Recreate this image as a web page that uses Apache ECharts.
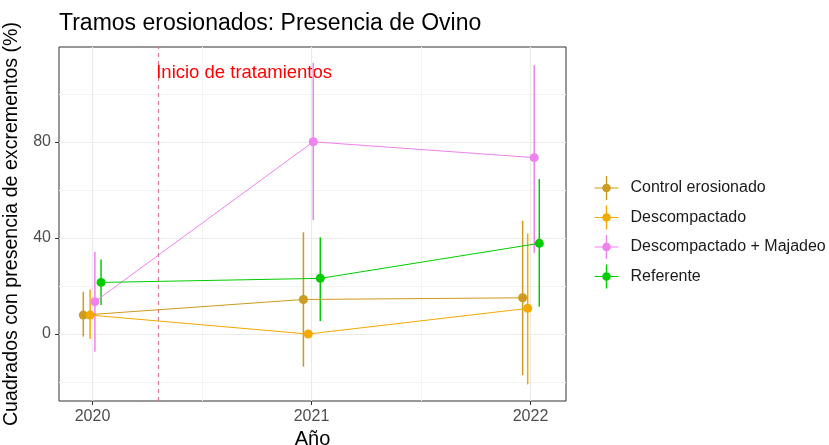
<!DOCTYPE html>
<html>
<head>
<meta charset="utf-8">
<title>Tramos erosionados: Presencia de Ovino</title>
<script src="https://cdn.jsdelivr.net/npm/echarts@6/dist/echarts.min.js"></script>
<style>
html, body { margin: 0; padding: 0; background: #fff; }
#chart { width: 829px; height: 445px; }
</style>
</head>
<body>
<div id="chart"></div>
<script>
// valores (% de cuadrados con excrementos)
var groups = ['Control erosionado', 'Descompactado', 'Descompactado + Majadeo', 'Referente'];
var years = [2020, 2021, 2022];
// posicion en x de cada punto (año con el pequeño desplazamiento de cada grupo)
var posX = [
    [2019.958, 2020.963, 2021.964],
    [2019.989, 2020.985, 2021.987],
    [2020.011, 2021.008, 2022.017],
    [2020.039, 2021.040, 2022.040]
];
var meanPct = [
    [7.9, 14.4, 15.1],
    [7.9, 0, 10.7],
    [13.5, 80.1, 73.5],
    [21.5, 23.2, 37.8]
];
var lowPct = [
    [-1.1, -13.6, -17.1],
    [-2.1, 0, -21],
    [-7.4, 47.5, 33.9],
    [12.1, 5.4, 11.4]
];
var highPct = [
    [17.6, 42.4, 47.2],
    [18.6, 0, 41.9],
    [34.3, 113, 112],
    [31.1, 40.3, 64.6]
];
var xTicks = [2020, 2021, 2022];
var xMinor = [2020.5, 2021.5];
var yTicks = [0, 40, 80];
var yMinor = [-20, 20, 60, 100];
var treatmentStart = 2020.3;
var treatmentLabel = 'Inicio de tratamientos';
var treatmentLabelY = 109;

var colors = ['#cd9b1d', '#f2a900', '#ee82ee', '#00cd00'];
var font = "'Liberation Sans', Arial, sans-serif";
var crossIcon = 'path://M11.3,0H12.7V24H11.3Z M0,11.5H24V12.5H0Z M7.7,12A4.3,4.3,0,1,1,16.3,12A4.3,4.3,0,1,1,7.7,12Z';

var chart = echarts.init(document.getElementById('chart'));

var gridLines = [];
xMinor.forEach(function (v) { gridLines.push({ xAxis: v, lineStyle: { color: '#f3f3f3', width: 1, type: 'solid' } }); });
yMinor.forEach(function (v) { gridLines.push({ yAxis: v, lineStyle: { color: '#f3f3f3', width: 1, type: 'solid' } }); });
xTicks.forEach(function (v) { gridLines.push({ xAxis: v, lineStyle: { color: '#ebebeb', width: 1.2, type: 'solid' } }); });
yTicks.forEach(function (v) { gridLines.push({ yAxis: v, lineStyle: { color: '#ebebeb', width: 1.2, type: 'solid' } }); });

var series = [];
// puntos (primero, para que la leyenda tome su color)
groups.forEach(function (name, i) {
    series.push({
        name: name,
        type: 'scatter',
        symbol: 'circle',
        symbolSize: 9,
        z: 6,
        itemStyle: { color: colors[i], opacity: 1 },
        data: posX[i].map(function (x, j) { return [x, meanPct[i][j]]; })
    });
});
// lineas entre años
groups.forEach(function (name, i) {
    series.push({
        name: name,
        type: 'line',
        showSymbol: false,
        z: 5,
        lineStyle: { color: colors[i], width: 1 },
        itemStyle: { color: colors[i] },
        data: posX[i].map(function (x, j) { return [x, meanPct[i][j]]; })
    });
});
// barras de error
groups.forEach(function (name, i) {
    series.push({
        name: name,
        type: 'custom',
        z: 5,
        itemStyle: { color: colors[i] },
        encode: { x: 0, y: [1, 2] },
        data: posX[i].map(function (x, j) { return [x, lowPct[i][j], highPct[i][j]]; }),
        renderItem: function (params, api) {
            var a = api.coord([api.value(0), api.value(1)]);
            var b = api.coord([api.value(0), api.value(2)]);
            return {
                type: 'line',
                shape: { x1: a[0], y1: a[1], x2: b[0], y2: b[1] },
                style: { stroke: colors[i], lineWidth: 1.5 }
            };
        }
    });
});
// rejilla y linea de inicio de tratamientos
series.push({
    name: 'rejilla',
    type: 'line',
    data: [],
    z: 1,
    silent: true,
    markLine: {
        z: 1,
        silent: true,
        symbol: 'none',
        animation: false,
        label: { show: false },
        data: gridLines
    }
});
series.push({
    name: 'tratamiento',
    type: 'line',
    data: [],
    z: 2,
    silent: true,
    color: '#e07b93',
    markLine: {
        z: 2,
        silent: true,
        symbol: 'none',
        animation: false,
        label: { show: false },
        lineStyle: { color: '#e07b93', width: 1.2, type: [4, 4], opacity: 1 },
        data: [{ xAxis: treatmentStart, lineStyle: { color: '#e07b93', width: 1.2, type: [4, 4], opacity: 1 } }]
    },
    markPoint: {
        z: 2,
        silent: true,
        animation: false,
        symbol: 'circle',
        symbolSize: 0,
        label: {
            show: true,
            position: 'right',
            distance: 0,
            offset: [-2, 0],
            formatter: treatmentLabel,
            color: '#ff0000',
            fontSize: 18.5,
            fontFamily: font
        },
        data: [{ coord: [treatmentStart, treatmentLabelY] }]
    }
});

var option = {
    backgroundColor: '#fff',
    animation: false,
    textStyle: { fontFamily: font },
    title: {
        text: 'Tramos erosionados: Presencia de Ovino',
        left: 59,
        top: 12,
        padding: 0,
        textStyle: { fontSize: 23, fontWeight: 'normal', color: '#000', fontFamily: font }
    },
    legend: {
        orient: 'vertical',
        left: 589.5,
        top: 171,
        itemWidth: 38,
        itemHeight: 24,
        itemGap: 5.5,
        selectedMode: false,
        textStyle: { fontSize: 16, color: '#1a1a1a', fontFamily: font },
        data: groups.map(function (n) { return { name: n, icon: crossIcon }; })
    },
    grid: {
        left: 59,
        top: 47,
        right: 263,
        bottom: 44,
        outerBoundsMode: 'none',
        containLabel: false,
        show: true,
        borderColor: '#333333',
        borderWidth: 1,
        backgroundColor: '#fff'
    },
    xAxis: {
        type: 'value',
        min: 2019.847,
        max: 2022.162,
        name: 'Año',
        nameLocation: 'middle',
        nameGap: 28,
        nameTextStyle: { fontSize: 20, color: '#000', fontFamily: font },
        splitLine: { show: false },
        axisLine: { show: false, onZero: false },
        axisTick: { show: true, length: 4, customValues: xTicks, lineStyle: { color: '#333333' } },
        axisLabel: { customValues: xTicks, fontSize: 16, color: '#4d4d4d', margin: 8, fontFamily: font,
            formatter: function (v) { return String(Math.round(v)); } }
    },
    yAxis: {
        type: 'value',
        min: -27.9,
        max: 119.6,
        name: 'Cuadrados con presencia de excrementos (%)',
        nameLocation: 'middle',
        nameGap: 37,
        nameTextStyle: { fontSize: 19.6, color: '#000', fontFamily: font },
        splitLine: { show: false },
        axisLine: { show: false, onZero: false },
        axisTick: { show: true, length: 4, customValues: yTicks, lineStyle: { color: '#333333' } },
        axisLabel: { customValues: yTicks, fontSize: 16, color: '#4d4d4d', margin: 8, fontFamily: font }
    },
    series: series
};

chart.setOption(option);
</script>
</body>
</html>
